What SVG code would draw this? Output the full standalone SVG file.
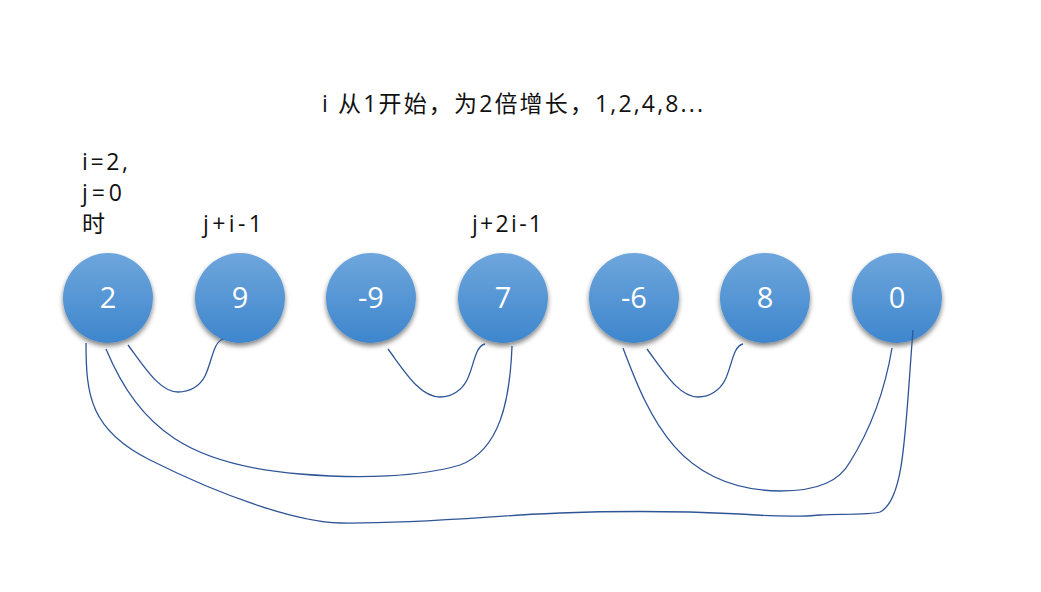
<svg xmlns="http://www.w3.org/2000/svg" width="1041" height="592" viewBox="0 0 1041 592">
<defs>
<linearGradient id="g" x1="0" y1="0" x2="0" y2="1">
<stop offset="0" stop-color="#6ea6dc"/>
<stop offset="1" stop-color="#3e86cd"/>
</linearGradient>
<filter id="sh" x="-30%" y="-30%" width="160%" height="170%">
<feGaussianBlur in="SourceAlpha" stdDeviation="2.5"/>
<feOffset dy="3" result="b"/>
<feComponentTransfer><feFuncA type="linear" slope="0.5"/></feComponentTransfer>
<feMerge><feMergeNode/><feMergeNode in="SourceGraphic"/></feMerge>
</filter>
</defs>
<style>
.n{fill:url(#g);filter:url(#sh)}
.v{fill:#fff;font-family:"Open Sans","Noto Sans",sans-serif;font-size:29px;text-anchor:middle}
.t{fill:#111;font-family:"Open Sans","Noto Sans CJK SC",sans-serif;font-size:23px}
.c{fill:none;stroke:#2f5597;stroke-width:1.3}
</style>
<rect width="1041" height="592" fill="#fff"/>
<text class="t" x="322" y="112" textLength="381" lengthAdjust="spacing">i 从1开始，为2倍增长，1,2,4,8...</text>
<g id="label-ij">
<text class="t" x="82" y="170" textLength="46" lengthAdjust="spacing">i=2,</text>
<text class="t" x="82" y="201" textLength="40" lengthAdjust="spacing">j=0</text>
<text class="t" x="82" y="232">时</text>
</g>
<text class="t" x="203" y="232" textLength="59" lengthAdjust="spacing">j+i-1</text>
<text class="t" x="472" y="232" textLength="70" lengthAdjust="spacing">j+2i-1</text>
<g id="n0"><circle class="n" cx="108" cy="298" r="45"/><text class="v" x="108" y="308">2</text></g>
<g id="n1"><circle class="n" cx="240" cy="298" r="45"/><text class="v" x="240" y="308">9</text></g>
<g id="n2"><circle class="n" cx="371" cy="298" r="45"/><text class="v" x="371" y="308">-9</text></g>
<g id="n3"><circle class="n" cx="503" cy="298" r="45"/><text class="v" x="503" y="308">7</text></g>
<g id="n4"><circle class="n" cx="634" cy="298" r="45"/><text class="v" x="634" y="308">-6</text></g>
<g id="n5"><circle class="n" cx="765" cy="298" r="45"/><text class="v" x="765" y="308">8</text></g>
<g id="n6"><circle class="n" cx="897" cy="298" r="45"/><text class="v" x="897" y="308">0</text></g>
<g id="connectors">
<path class="c" d="M128,345 C145,368 160,392 178,392 C190,392 200,386 205,376 C212,362 213,342 223,339"/>
<path class="c" d="M388,349 C405,372 420,397 440,397 C452,397 462,390 467,380 C474,366 475,346 485,344"/>
<path class="c" d="M647,349 C664,372 679,397 698,397 C710,397 720,390 725,380 C732,366 733,346 743,344"/>
<path class="c" d="M106,349 C140,430 190,465 300,474 C360,479 420,477 460,465 C500,450 510,400 512,346"/>
<path class="c" d="M623,348 C650,420 680,490 780,491 C820,491 840,480 850,462 C870,430 885,390 892,348"/>
<path class="c" d="M86,343 C86,395 90,430 150,460 C230,500 300,522 340,523 C420,524 500,515 560,513 C640,510 700,512 740,514 C780,517 800,517 820,515 C840,514 870,515 880,512 C905,500 905,430 913,330"/>
</g>
</svg>
